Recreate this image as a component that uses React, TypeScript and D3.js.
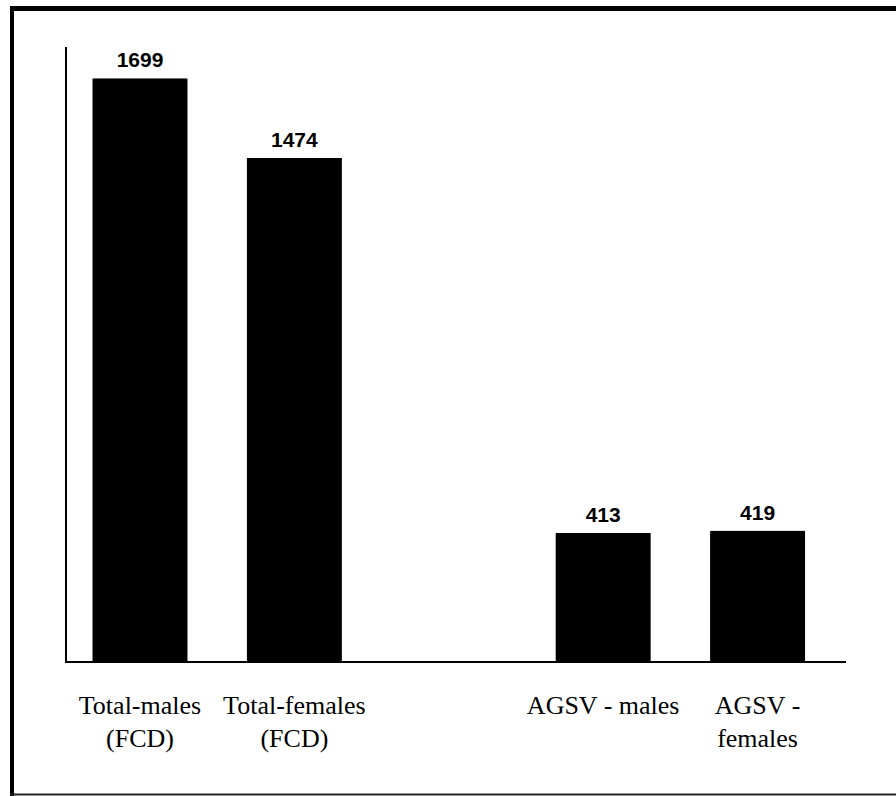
import { useEffect, useRef } from 'react';
import * as d3 from 'd3';

// categories ('' is the empty slot between the two groups)
const categories = ['Total-males', 'Total-females', '', 'AGSV - males', 'AGSV - females'];
const values: (number | null)[] = [1699, 1474, null, 413, 419];
const labelLines: string[][] = [
  ['Total-males', '(FCD)'],
  ['Total-females', '(FCD)'],
  [],
  ['AGSV - males'],
  ['AGSV -', 'females'],
];

const W = 896;
const H = 796;

export default function App() {
  const svgRef = useRef<SVGSVGElement | null>(null);

  useEffect(() => {
    if (!svgRef.current) return;
    const svg = d3.select(svgRef.current);
    svg.selectAll('*').remove();

    const axisX = 66;
    const axisY = 662;
    const axisTop = 47;
    const axisRight = 846;

    const x = d3
      .scaleBand<string>()
      .domain(categories.map((c, i) => c || `gap${i}`))
      .range([axisX, axisRight])
      .paddingInner(0.385)
      .paddingOuter(0.2185)
      .align(0.393);

    const y = d3.scaleLinear().domain([48, 1788]).range([axisY, axisTop]);

    // frame
    const frame = svg.append('g');
    frame.append('line').attr('x1', 12).attr('x2', 12).attr('y1', 6).attr('y2', H)
      .attr('stroke', '#000').attr('stroke-width', 4);
    frame.append('line').attr('x1', 10).attr('x2', W).attr('y1', 8.5).attr('y2', 8.5)
      .attr('stroke', '#000').attr('stroke-width', 5);
    frame.append('line').attr('x1', 10).attr('x2', W).attr('y1', 794.5).attr('y2', 794.5)
      .attr('stroke', '#222').attr('stroke-width', 2);

    const data = categories.map((c, i) => ({ key: c || `gap${i}`, value: values[i], lines: labelLines[i] }));
    const bars = data.filter((d) => d.value != null) as { key: string; value: number; lines: string[] }[];

    // bars
    svg
      .append('g')
      .selectAll('rect')
      .data(bars)
      .enter()
      .append('rect')
      .attr('x', (d) => x(d.key)!)
      .attr('width', x.bandwidth())
      .attr('y', (d) => y(d.value))
      .attr('height', (d) => axisY - y(d.value))
      .attr('fill', '#000');

    // value labels
    svg
      .append('g')
      .selectAll('text')
      .data(bars)
      .enter()
      .append('text')
      .attr('x', (d) => x(d.key)! + x.bandwidth() / 2)
      .attr('y', (d) => y(d.value) - 11)
      .attr('text-anchor', 'middle')
      .attr('font-family', '"Liberation Sans", Arial, sans-serif')
      .attr('font-weight', 700)
      .attr('font-size', 21)
      .attr('fill', '#000')
      .text((d) => d.value);

    // axes
    svg.append('line').attr('x1', axisX).attr('x2', axisX).attr('y1', axisTop).attr('y2', axisY + 1)
      .attr('stroke', '#000').attr('stroke-width', 2);
    svg.append('line').attr('x1', axisX).attr('x2', axisRight).attr('y1', axisY).attr('y2', axisY)
      .attr('stroke', '#000').attr('stroke-width', 2);

    // category labels
    const labels = svg
      .append('g')
      .selectAll('text')
      .data(bars)
      .enter()
      .append('text')
      .attr('text-anchor', 'middle')
      .attr('font-family', '"Liberation Serif", "Times New Roman", serif')
      .attr('font-size', 26)
      .attr('fill', '#000');
    labels
      .selectAll('tspan')
      .data((d) => d.lines.map((l) => ({ l, cx: x(d.key)! + x.bandwidth() / 2 })))
      .enter()
      .append('tspan')
      .attr('x', (d) => d.cx)
      .attr('y', (_, i) => axisY + 52 + i * 33)
      .text((d) => d.l);
  }, []);

  return (
    <svg
      ref={svgRef}
      width={W}
      height={H}
      style={{ position: 'absolute', left: 0, top: 0, background: '#fff', display: 'block' }}
    />
  );
}
